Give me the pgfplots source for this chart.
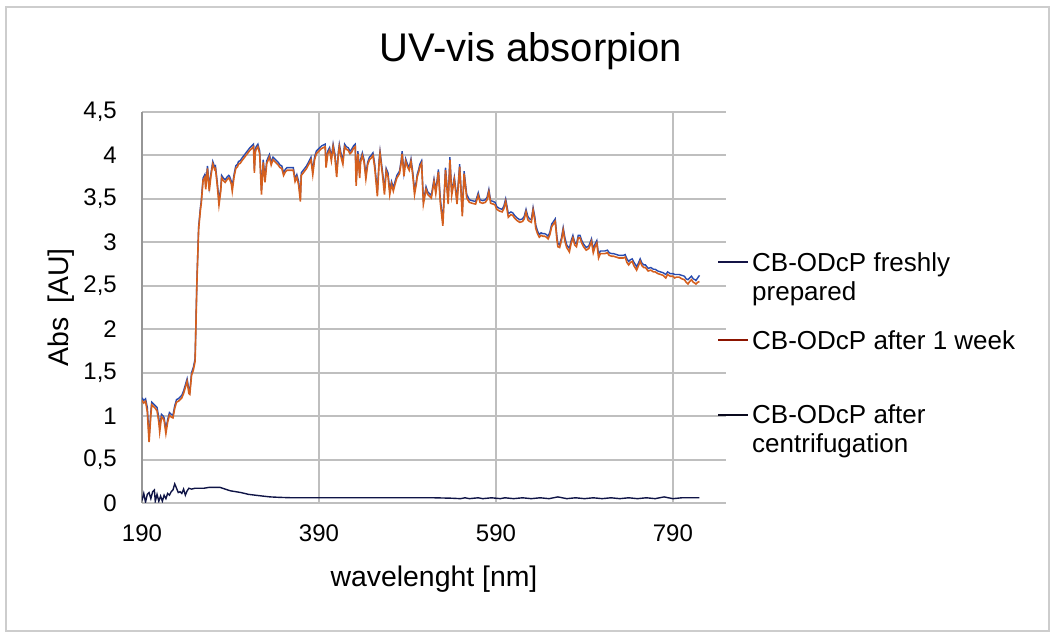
\documentclass[border=0pt]{standalone}
\usepackage{pgfplots}
\pgfplotsset{compat=1.18}
\usepackage{pgfplotstable}
\usepackage{fontspec}
\setmainfont{Liberation Sans}

\definecolor{gridgray}{RGB}{191,191,191}
\definecolor{axisgray}{RGB}{150,150,150}
\definecolor{framegray}{RGB}{205,205,205}
\definecolor{freshc}{RGB}{40,75,175}
\definecolor{weekc}{RGB}{212,95,30}
\definecolor{centc}{RGB}{15,20,70}
\definecolor{freshleg}{RGB}{20,20,70}
\definecolor{weekleg}{RGB}{140,20,0}
\definecolor{centleg}{RGB}{10,10,30}

\pgfplotstableread{
x f w
190 1.21 1.18
192 1.18 1.15
194 1.20 1.17
196 1.10 1.05
198 0.76 0.70
200 1.05 1.01
201 1.16 1.13
203 1.14 1.11
205 1.12 1.09
207 1.10 1.06
209 0.98 0.93
210 0.87 0.82
212 1.02 0.99
214 1.00 0.97
215 0.98 0.95
217 0.85 0.80
219 0.96 0.93
221 1.04 1.01
223 1.02 0.99
225 1.01 0.98
227 1.12 1.09
229 1.19 1.16
231 1.20 1.17
233 1.22 1.19
235 1.24 1.21
237 1.29 1.26
239 1.36 1.33
241 1.43 1.40
243 1.30 1.26
244 1.28 1.25
246 1.50 1.47
248 1.56 1.53
250 1.66 1.63
251 2.10 2.07
252 2.55 2.52
254 3.18 3.15
256 3.40 3.37
257 3.48 3.45
259 3.74 3.71
261 3.78 3.75
262 3.66 3.61
264 3.88 3.85
266 3.64 3.59
268 3.80 3.77
270 3.93 3.90
272 3.87 3.84
273 3.88 3.85
275 3.70 3.66
277 3.48 3.43
279 3.62 3.59
280 3.77 3.74
282 3.74 3.71
284 3.72 3.69
286 3.75 3.72
288 3.77 3.74
289 3.76 3.73
291 3.70 3.67
292 3.64 3.59
294 3.78 3.75
296 3.88 3.85
298 3.90 3.87
299 3.93 3.90
301 3.94 3.91
303 3.97 3.94
306 4.01 3.98
309 4.05 4.02
312 4.09 4.06
314 4.11 4.08
316 4.13 4.10
317 3.85 3.80
318 4.06 4.03
319 4.10 4.07
321 4.13 4.10
323 4.05 4.02
325 3.60 3.55
327 3.95 3.92
329 3.74 3.69
331 3.94 3.91
334 4.01 3.98
336 3.92 3.89
338 3.98 3.95
341 3.95 3.92
344 3.92 3.89
346 3.89 3.86
348 3.88 3.85
350 3.80 3.77
352 3.84 3.81
354 3.86 3.83
357 3.86 3.83
361 3.86 3.83
363 3.73 3.70
365 3.78 3.75
367 3.70 3.66
369 3.52 3.47
370 3.80 3.77
373 3.84 3.81
376 3.88 3.85
379 3.94 3.91
381 3.98 3.95
383 3.82 3.78
385 3.98 3.95
387 4.05 4.02
390 4.08 4.05
393 4.11 4.08
395 4.12 4.09
397 4.13 4.10
398 3.91 3.86
400 4.05 4.02
402 4.09 4.06
404 3.98 3.94
406 4.13 4.10
408 4.02 3.98
410 3.80 3.75
412 4.05 4.02
413 4.13 4.10
415 4.02 3.98
417 3.94 3.90
419 4.13 4.10
421 4.10 4.07
423 4.09 4.06
425 4.05 4.02
427 4.07 4.04
429 4.11 4.08
431 4.13 4.10
432 3.70 3.65
434 4.05 4.02
436 3.79 3.74
437 3.95 3.92
439 4.03 4.00
441 3.95 3.92
443 3.78 3.73
445 3.92 3.89
447 3.98 3.95
449 4.00 3.97
451 4.03 4.00
453 3.90 3.86
456 3.58 3.53
458 3.95 3.92
459 4.05 4.02
461 3.88 3.84
462 3.80 3.76
464 3.60 3.55
466 3.85 3.82
468 3.80 3.76
470 3.60 3.55
472 3.70 3.67
474 3.63 3.59
476 3.70 3.67
478 3.77 3.74
481 3.82 3.79
483 3.95 3.92
484 4.05 4.02
486 3.80 3.76
488 3.96 3.93
490 3.90 3.87
492 3.86 3.83
494 3.96 3.93
496 3.81 3.77
498 3.60 3.55
500 3.70 3.67
501 3.78 3.75
503 3.85 3.82
504 3.90 3.87
506 3.94 3.91
508 3.49 3.44
510 3.58 3.55
511 3.64 3.61
513 3.58 3.55
515 3.56 3.53
517 3.54 3.51
520 3.73 3.70
522 3.60 3.56
525 3.84 3.81
527 3.52 3.47
530 3.24 3.19
533 3.86 3.83
536 3.49 3.44
538 3.98 3.95
540 3.58 3.54
543 3.75 3.72
546 3.49 3.44
549 3.90 3.87
552 3.35 3.30
554 3.82 3.79
557 3.55 3.51
560 3.49 3.46
563 3.48 3.45
567 3.47 3.44
570 3.57 3.54
572 3.49 3.46
575 3.48 3.45
578 3.49 3.46
580 3.52 3.49
582 3.61 3.58
584 3.48 3.45
587 3.47 3.44
589 3.46 3.43
591 3.41 3.38
594 3.39 3.36
597 3.38 3.35
599 3.42 3.39
601 3.50 3.47
604 3.33 3.29
607 3.35 3.32
609 3.34 3.31
611 3.31 3.28
614 3.28 3.25
617 3.26 3.23
620 3.27 3.24
622 3.30 3.27
624 3.38 3.35
626 3.30 3.26
628 3.27 3.24
630 3.26 3.23
632 3.40 3.37
634 3.29 3.25
635 3.20 3.16
637 3.13 3.10
639 3.09 3.06
641 3.11 3.08
643 3.10 3.07
645 3.10 3.07
647 3.09 3.06
649 3.07 3.04
651 3.12 3.09
653 3.21 3.18
655 3.24 3.21
657 3.27 3.24
659 3.06 3.02
660 2.99 2.95
662 2.97 2.94
664 3.05 3.02
666 3.17 3.14
668 3.05 3.01
670 2.97 2.94
673 2.93 2.89
675 3.02 2.99
677 3.08 3.05
679 3.00 2.97
681 2.98 2.95
683 3.08 3.05
685 3.08 3.05
687 3.02 2.99
689 2.98 2.95
692 2.94 2.91
695 2.96 2.93
698 3.04 3.01
700 2.92 2.88
702 2.98 2.95
704 3.02 2.99
706 2.86 2.82
708 2.90 2.87
710 2.90 2.87
713 2.90 2.87
716 2.91 2.88
718 2.88 2.85
721 2.87 2.84
723 2.87 2.84
726 2.86 2.83
729 2.85 2.82
731 2.85 2.82
734 2.85 2.82
736 2.86 2.83
738 2.81 2.77
740 2.78 2.74
742 2.80 2.77
744 2.81 2.78
746 2.77 2.73
749 2.72 2.68
751 2.76 2.73
753 2.81 2.78
755 2.76 2.73
757 2.74 2.71
759 2.74 2.71
762 2.70 2.67
765 2.71 2.68
768 2.69 2.66
770 2.69 2.66
773 2.67 2.64
776 2.66 2.63
779 2.65 2.62
782 2.63 2.59
784 2.66 2.63
787 2.64 2.61
790 2.64 2.61
792 2.63 2.59
794 2.63 2.60
797 2.63 2.60
800 2.62 2.58
803 2.61 2.57
805 2.58 2.54
807 2.57 2.52
809 2.59 2.55
811 2.61 2.57
813 2.58 2.54
815 2.57 2.53
816 2.56 2.52
818 2.59 2.54
820 2.62 2.55
}\absdata

\pgfplotstableread{
x c
190 0.03
192 0.11
194 0.01
196 0.10
198 0.12
200 0.05
202 0.13
204 0.15
205 0.02
207 0.10
209 0.02
211 0.08
213 0.02
215 0.09
217 0.05
219 0.11
221 0.09
223 0.13
225 0.15
227 0.22
229 0.17
231 0.12
233 0.13
235 0.11
237 0.16
239 0.09
241 0.14
243 0.17
246 0.16
250 0.17
255 0.17
260 0.17
266 0.18
272 0.18
278 0.18
284 0.16
290 0.14
296 0.13
302 0.12
310 0.10
318 0.09
326 0.08
335 0.07
345 0.065
360 0.06
380 0.06
400 0.06
420 0.06
440 0.06
460 0.06
480 0.06
500 0.06
520 0.06
540 0.055
550 0.05
555 0.06
560 0.05
570 0.06
575 0.05
585 0.06
595 0.05
600 0.06
610 0.05
620 0.06
630 0.05
640 0.06
650 0.05
660 0.07
670 0.05
680 0.06
690 0.05
700 0.06
710 0.05
720 0.06
730 0.05
740 0.06
750 0.05
760 0.06
770 0.05
780 0.07
790 0.05
800 0.06
810 0.06
820 0.06
}\centdata

\begin{document}
\begin{tikzpicture}
\path[use as bounding box] (0pt,0pt) rectangle (1055pt,637pt);
\draw[framegray, line width=2pt] (6pt,6pt) rectangle (1049pt,630pt);
\node[anchor=base, inner sep=0pt, font=\fontsize{40}{40}\selectfont] at (531pt,575pt) {UV-vis absorpion};
\begin{axis}[
  at={(142pt,134pt)}, anchor=south west,
  scale only axis, width=584pt, height=391pt,
  xmin=190, xmax=850, ymin=0, ymax=4.5,
  xtick={190,390,590,790},
  ytick={0,0.5,1,1.5,2,2.5,3,3.5,4,4.5},
  axis x line*=bottom, axis y line*=left,
  x axis line style={-, draw=gridgray, line width=2pt},
  y axis line style={-, draw=axisgray, line width=2.5pt},
  major tick length=0pt,
  grid=major,
  x grid style={gridgray, line width=1.6pt},
  y grid style={gridgray, line width=2pt},
  /pgf/number format/.cd, use comma, assume math mode=true,
  /pgfplots/.cd,
  ticklabel style={font=\fontsize{24}{24}\selectfont, inner sep=0pt},
  yticklabel style={anchor=east, xshift=-25pt},
  xticklabel style={anchor=north, yshift=-22pt},
  xlabel={wavelenght [nm]},
  ylabel={Abs\hspace{14pt}[AU]},
  label style={font=\fontsize{28.4}{28.4}\selectfont, inner sep=0pt},
  xlabel style={at={(axis description cs:0.5,-0.2123)}, anchor=base},
  ylabel style={at={(axis description cs:-0.125,0.5)}, anchor=base},
]
\addplot[freshc, line width=1.4pt] table[x=x, y=f] {\absdata};
\addplot[weekc, line width=1.6pt] table[x=x, y=w] {\absdata};
\addplot[centc, line width=1.4pt] table[x=x, y=c] {\centdata};
\end{axis}
\begin{scope}[font=\fontsize{26}{26}\selectfont]
\draw[freshleg, line width=1.3pt] (718pt,375pt) -- (748pt,375pt);
\node[anchor=base west, inner sep=0pt] at (752pt,365.5pt) {CB-ODcP freshly};
\node[anchor=base west, inner sep=0pt] at (752pt,336.5pt) {prepared};
\draw[weekleg, line width=1.3pt] (718pt,297pt) -- (748pt,297pt);
\node[anchor=base west, inner sep=0pt] at (752pt,287.7pt) {CB-ODcP after 1 week};
\draw[centleg, line width=1.3pt] (718pt,222pt) -- (748pt,222pt);
\node[anchor=base west, inner sep=0pt] at (752pt,213pt) {CB-ODcP after};
\node[anchor=base west, inner sep=0pt] at (752pt,184pt) {centrifugation};
\end{scope}
\end{tikzpicture}
\end{document}
